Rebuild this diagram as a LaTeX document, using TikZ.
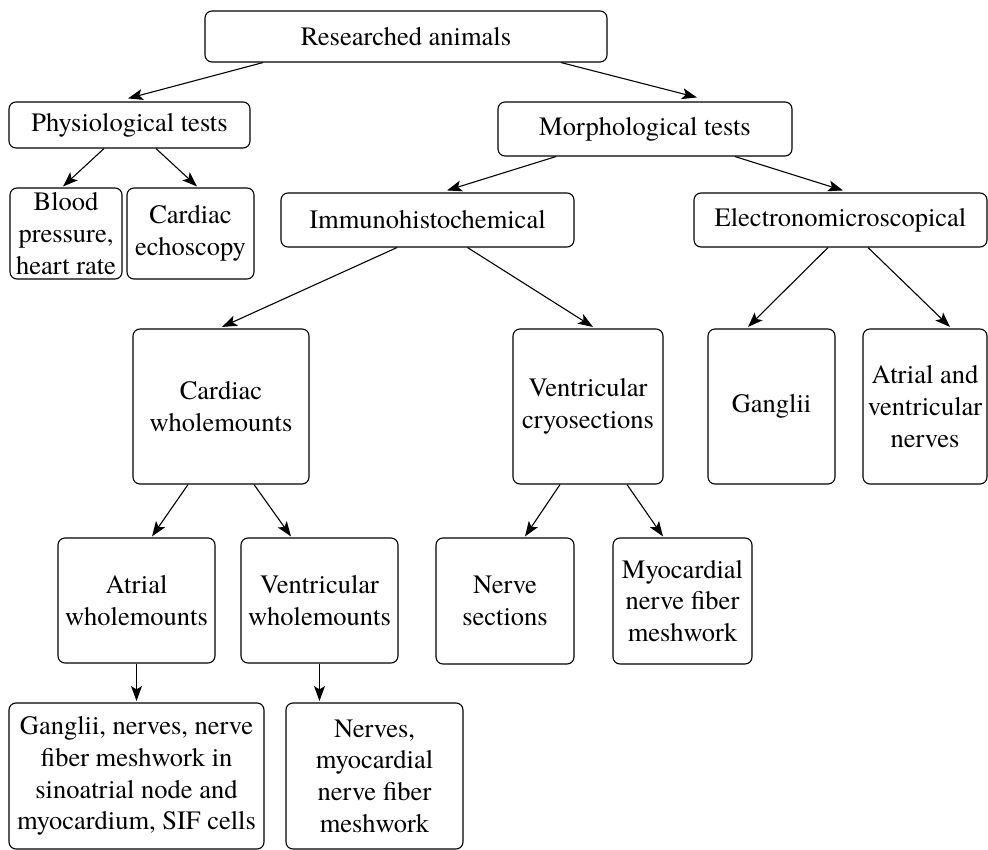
\documentclass[tikz,border=0pt]{standalone}
\usepackage{fontspec}
\setmainfont{texgyretermes}[Extension=.otf, UprightFont=*-regular, BoldFont=*-bold, ItalicFont=*-italic, BoldItalicFont=*-bolditalic]
\usetikzlibrary{arrows.meta}
\begin{document}
\begin{tikzpicture}[x=1pt,y=-1pt,
  box/.style={draw, line width=1.1pt, rounded corners=7pt, align=center, inner sep=0pt,
    font=\rmfamily\fontsize{26.5}{31.7}\selectfont},
  arr/.style={draw, line width=1.1pt, -{Stealth[length=15pt,width=11pt,inset=3.5pt]}}]
\useasboundingbox (0,0) rectangle (988,850);
% level 0
\node[box, minimum width=402pt, minimum height=51pt] (ra) at (406,36.5) {Researched animals};
% level 1
\node[box, minimum width=241pt, minimum height=46pt] (phys) at (129.5,125) {Physiological tests};
\node[box, minimum width=294pt, minimum height=54pt] (morph) at (645,129) {Morphological tests};
% level 2
\node[box, minimum width=112pt, minimum height=91pt] (blood) at (66,233.5) {Blood\\pressure,\\heart rate};
\node[box, minimum width=127pt, minimum height=91pt] (echo) at (190.5,233.5) {Cardiac\\echoscopy};
\node[box, minimum width=293pt, minimum height=54pt] (immuno) at (427.5,220) {Immunohistochemical};
\node[box, minimum width=293pt, minimum height=54pt] (electro) at (840.5,220) {Electronomicroscopical};
% level 3
\node[box, minimum width=176pt, minimum height=155pt] (cw) at (221,406.5) {Cardiac\\wholemounts};
\node[box, minimum width=150pt, minimum height=155pt] (vc) at (588,406.5) {Ventricular\\cryosections};
\node[box, minimum width=127pt, minimum height=155pt] (gang) at (771.5,406.5) {Ganglii};
\node[box, minimum width=124pt, minimum height=155pt] (avn) at (925,406.5) {Atrial and\\ventricular\\nerves};
% level 4
\node[box, minimum width=157pt, minimum height=125pt] (aw) at (136.5,600.5) {Atrial\\wholemounts};
\node[box, minimum width=157pt, minimum height=125pt] (vw) at (319.5,600.5) {Ventricular\\wholemounts};
\node[box, minimum width=138pt, minimum height=126pt] (ns) at (505,601) {Nerve\\sections};
\node[box, minimum width=139pt, minimum height=126pt] (myo) at (682.5,601) {Myocardial\\nerve fiber\\meshwork};
% level 5
\node[box, minimum width=255pt, minimum height=146pt] (gn) at (136.5,776) {Ganglii, nerves, nerve\\fiber meshwork in\\sinoatrial node and\\myocardium, SIF cells};
\node[box, minimum width=177pt, minimum height=146pt] (nv) at (374.5,776) {Nerves,\\myocardial\\nerve fiber\\meshwork};
% connectors
\draw[arr] ([xshift=-143pt]ra.south) -- ([xshift=-1.5pt,yshift=3pt]phys.north);
\draw[arr] ([xshift=155pt]ra.south) -- ([xshift=52pt,yshift=4pt]morph.north);
\draw[arr] ([xshift=-25.5pt]phys.south) -- ([xshift=-3pt,yshift=1pt]blood.north);
\draw[arr] ([xshift=26.5pt]phys.south) -- ([xshift=6.5pt,yshift=1pt]echo.north);
\draw[arr] ([xshift=-89pt]morph.south) -- ([xshift=19.5pt,yshift=2pt]immuno.north);
\draw[arr] ([xshift=90pt]morph.south) -- ([xshift=2.5pt,yshift=2pt]electro.north);
\draw[arr] ([xshift=-30.5pt]immuno.south) -- ([xshift=1pt,yshift=1.5pt]cw.north);
\draw[arr] ([xshift=40pt]immuno.south) -- ([xshift=5pt,yshift=1.5pt]vc.north);
\draw[arr] ([xshift=-12.5pt]electro.south) -- ([xshift=-23.5pt,yshift=1.5pt]gang.north);
\draw[arr] ([xshift=27.5pt]electro.south) -- ([xshift=25pt,yshift=1.5pt]avn.north);
\draw[arr] ([xshift=-33pt]cw.south) -- ([xshift=15.5pt,yshift=1pt]aw.north);
\draw[arr] ([xshift=33pt]cw.south) -- ([xshift=-28.5pt,yshift=1pt]vw.north);
\draw[arr] ([xshift=-28pt]vc.south) -- ([xshift=20pt,yshift=1pt]ns.north);
\draw[arr] ([xshift=39pt]vc.south) -- ([xshift=-19.5pt,yshift=1pt]myo.north);
\draw[arr] (aw.south) -- ([yshift=1.5pt]aw.south |- gn.north);
\draw[arr] (vw.south) -- ([yshift=1.5pt]vw.south |- nv.north);
\end{tikzpicture}
\end{document}
